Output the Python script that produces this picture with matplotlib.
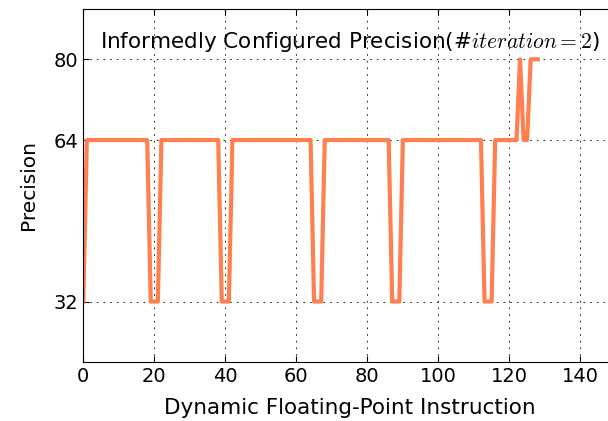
import matplotlib
matplotlib.use('Agg')
import matplotlib.pyplot as plt
import numpy as np

plt.rcParams['mathtext.fontset'] = 'cm'

# precision chosen for each dynamic floating-point instruction
precision = [
    32, 64, 64, 64, 64, 64, 64, 64, 64, 64, 64, 64, 64, 64, 64, 64, 64, 64, 64,
    32, 32, 32, 64, 64, 64, 64, 64, 64, 64, 64, 64, 64, 64, 64, 64, 64, 64, 64, 64,
    32, 32, 32, 64, 64, 64, 64, 64, 64, 64, 64, 64, 64, 64, 64, 64, 64, 64, 64, 64,
    64, 64, 64, 64, 64, 64,
    32, 32, 32, 64, 64, 64, 64, 64, 64, 64, 64, 64, 64, 64, 64, 64, 64, 64, 64, 64,
    64, 64,
    32, 32, 32, 64, 64, 64, 64, 64, 64, 64, 64, 64, 64, 64, 64, 64, 64, 64, 64, 64,
    64, 64, 64, 64, 64, 64,
    32, 32, 32, 64, 64, 64, 64, 64, 64, 64, 80, 64, 64, 80, 80, 80,
]
instruction = np.arange(len(precision))

yticks = [32, 64, 80]
xticks = [0, 20, 40, 60, 80, 100, 120, 140]

fig = plt.figure(figsize=(6.08, 4.21), dpi=100)
ax = fig.add_axes([0.137, 0.14, 0.876, 0.839])

ax.plot(instruction, precision, color='coral', lw=3)

ax.set_xlim(0, 150)
ax.set_ylim(20, 90)
ax.set_xticks(xticks)
ax.set_yticks(yticks)
ax.tick_params(direction='in', top=True, right=True, labelsize=14, length=4)
ax.grid(True, color='k', linestyle=(0, (2, 6)), linewidth=0.6)

ax.set_xlabel('Dynamic Floating-Point Instruction', fontsize=15.5, labelpad=9)
ax.set_ylabel('Precision', fontsize=14.5, labelpad=11)
ax.text(0.5, 0.906, r'Informedly Configured Precision(#$iteration=2$)',
        transform=ax.transAxes, ha='center', va='center', fontsize=15.5)

fig.savefig('out.png', dpi=100)
